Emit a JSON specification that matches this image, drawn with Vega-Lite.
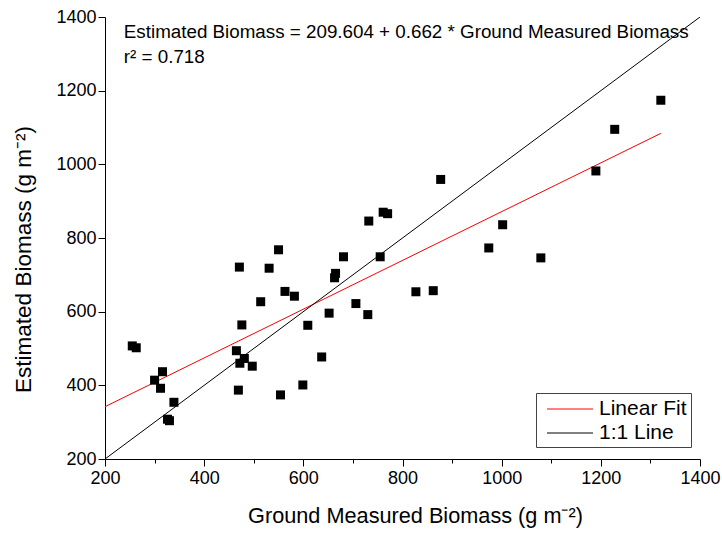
{
  "$schema": "https://vega.github.io/schema/vega-lite/v6.json",
  "width": 595,
  "height": 442,
  "autosize": {"type": "none"},
  "padding": {"left": 105, "top": 17, "right": 22, "bottom": 74},
  "background": "white",
  "config": {
    "font": "Liberation Sans",
    "view": {"stroke": null},
    "axis": {
      "domainColor": "black",
      "tickColor": "black",
      "labelColor": "black",
      "titleColor": "black",
      "grid": false,
      "labelFont": "Liberation Sans",
      "titleFont": "Liberation Sans",
      "titleFontWeight": "normal",
      "labelFontSize": 18
    }
  },
  "datasets": {
    "points": [
      {"ground": 255, "est": 507}, {"ground": 263, "est": 502}, {"ground": 300, "est": 414},
      {"ground": 316, "est": 437}, {"ground": 312, "est": 392}, {"ground": 339, "est": 354},
      {"ground": 326, "est": 308}, {"ground": 330, "est": 304}, {"ground": 465, "est": 494},
      {"ground": 472, "est": 460}, {"ground": 481, "est": 473}, {"ground": 497, "est": 452},
      {"ground": 469, "est": 387}, {"ground": 476, "est": 564}, {"ground": 471, "est": 721},
      {"ground": 531, "est": 718}, {"ground": 550, "est": 768}, {"ground": 514, "est": 627},
      {"ground": 563, "est": 655}, {"ground": 582, "est": 642}, {"ground": 554, "est": 374},
      {"ground": 599, "est": 401}, {"ground": 609, "est": 563}, {"ground": 637, "est": 477},
      {"ground": 652, "est": 596}, {"ground": 663, "est": 692}, {"ground": 665, "est": 704},
      {"ground": 681, "est": 749}, {"ground": 706, "est": 622}, {"ground": 730, "est": 592},
      {"ground": 732, "est": 846}, {"ground": 755, "est": 749}, {"ground": 761, "est": 870},
      {"ground": 770, "est": 866}, {"ground": 827, "est": 654}, {"ground": 862, "est": 657},
      {"ground": 877, "est": 959}, {"ground": 974, "est": 773}, {"ground": 1002, "est": 836},
      {"ground": 1079, "est": 746}, {"ground": 1190, "est": 982}, {"ground": 1228, "est": 1095},
      {"ground": 1321, "est": 1174}
    ],
    "lines": [
      {"series": "Linear Fit", "ground": 200, "est": 342.0},
      {"series": "Linear Fit", "ground": 1321, "est": 1084.1},
      {"series": "1:1 Line", "ground": 200, "est": 200},
      {"series": "1:1 Line", "ground": 1400, "est": 1400}
    ],
    "notes": [
      {"ground": 238, "est": 1359, "text": "Estimated Biomass = 209.604 + 0.662 * Ground Measured Biomass"},
      {"ground": 238, "est": 1292, "text": "r² = 0.718"}
    ]
  },
  "layer": [
    {
      "data": {"name": "lines"},
      "mark": {"type": "line", "strokeWidth": 1, "clip": true},
      "encoding": {
        "x": {
          "field": "ground", "type": "quantitative",
          "scale": {"domain": [200, 1400], "nice": false, "zero": false},
          "axis": {
            "title": "Ground Measured Biomass (g m⁻²)",
            "titleFontSize": 21.7,
            "titleX": 310,
            "values": [200, 300, 400, 500, 600, 700, 800, 900, 1000, 1100, 1200, 1300, 1400],
            "labelExpr": "datum.value % 200 === 0 ? datum.label : ''",
            "format": "d",
            "tickSize": {"condition": {"test": "datum.value % 200 === 0", "value": 7}, "value": 4},
            "labelPadding": 3,
            "titlePadding": 18,
            "labelFlush": false
          }
        },
        "y": {
          "field": "est", "type": "quantitative",
          "scale": {"domain": [200, 1400], "nice": false, "zero": false},
          "axis": {
            "title": "Estimated Biomass (g m⁻²)",
            "titleFontSize": 22.5,
            "titleY": 242,
            "values": [200, 300, 400, 500, 600, 700, 800, 900, 1000, 1100, 1200, 1300, 1400],
            "labelExpr": "datum.value % 200 === 0 ? datum.label : ''",
            "format": "d",
            "tickSize": {"condition": {"test": "datum.value % 200 === 0", "value": 7}, "value": 4},
            "labelPadding": 2,
            "titlePadding": 20,
            "labelFlush": false
          }
        },
        "color": {
          "field": "series", "type": "nominal",
          "scale": {"domain": ["Linear Fit", "1:1 Line"], "range": ["#ff0000", "#000000"]},
          "legend": {
            "title": null,
            "orient": "none",
            "legendX": 431,
            "legendY": 376,
            "symbolType": "M-2,0L2,0",
            "symbolSize": 529,
            "symbolOffset": 18,
            "symbolStrokeWidth": 1,
            "labelFontSize": 21,
            "labelFont": "Liberation Sans",
            "labelColor": "black",
            "strokeColor": "#444444",
            "padding": 4,
            "rowPadding": 2,
            "labelOffset": 17,
            "fillColor": "white"
          }
        }
      }
    },
    {
      "data": {"name": "points"},
      "mark": {"type": "point", "shape": "square", "filled": true, "color": "black", "size": 81, "opacity": 1},
      "encoding": {
        "x": {"field": "ground", "type": "quantitative"},
        "y": {"field": "est", "type": "quantitative"}
      }
    },
    {
      "data": {"name": "notes"},
      "mark": {"type": "text", "align": "left", "baseline": "middle", "fontSize": 18.8, "font": "Liberation Sans", "color": "black"},
      "encoding": {
        "x": {"field": "ground", "type": "quantitative"},
        "y": {"field": "est", "type": "quantitative"},
        "text": {"field": "text"}
      }
    }
  ]
}
